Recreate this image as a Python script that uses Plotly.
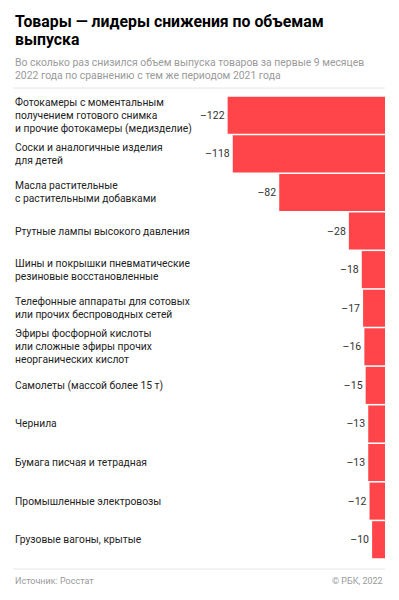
import plotly.graph_objects as go

categories = [
    "Фотокамеры с моментальным<br>получением готового снимка<br>и прочие фотокамеры (медизделие)",
    "Соски и аналогичные изделия<br>для детей",
    "Масла растительные<br>с растительными добавками",
    "Ртутные лампы высокого давления",
    "Шины и покрышки пневматические<br>резиновые восстановленные",
    "Телефонные аппараты для сотовых<br>или прочих беспроводных сетей",
    "Эфиры фосфорной кислоты<br>или сложные эфиры прочих<br>неорганических кислот",
    "Самолеты (массой более 15 т)",
    "Чернила",
    "Бумага писчая и тетрадная",
    "Промышленные электровозы",
    "Грузовые вагоны, крытые",
]
values = [-122, -118, -82, -28, -18, -17, -16, -15, -13, -13, -12, -10]

title_lines = ["Товары — лидеры снижения по объемам", "выпуска"]
subtitle_lines = [
    "Во сколько раз снизился объем выпуска товаров за первые 9 месяцев",
    "2022 года по сравнению с тем же периодом 2021 года",
]
source_text = "Источник: Росстат"
copyright_text = "© РБК, 2022"

# page body has an 8px default margin; compensate so content lands where intended
OFF = 8
W, H = 399 - 2 * OFF, 600 - 2 * OFF
PLOT_LEFT, PLOT_RIGHT, PLOT_TOP, PLOT_BOTTOM = 13, 385, 96, 559
M_L = PLOT_LEFT - OFF
M_R = W - (PLOT_RIGHT - OFF)
M_T = PLOT_TOP - OFF
M_B = H - (PLOT_BOTTOM - OFF)
PLOT_H = PLOT_BOTTOM - PLOT_TOP
PLOT_W = PLOT_RIGHT - PLOT_LEFT
PX_PER_UNIT = 1.29
FONT = "Roboto, Arial, sans-serif"
BAR_COLOR = "#FF4549"


def py(pix):
    return (PLOT_BOTTOM - pix) / PLOT_H


idx = list(range(len(categories)))
texts = ["–" + str(abs(v)) for v in values]

fig = go.Figure(
    go.Bar(
        x=values,
        y=idx,
        orientation="h",
        marker=dict(color=BAR_COLOR, line=dict(width=0)),
        text=texts,
        textposition="outside",
        textfont=dict(family=FONT, size=10.5, color="#333333"),
        cliponaxis=False,
        hoverinfo="skip",
    )
)

annotations = []
LINE = 13
for i, lab in enumerate(categories):
    lines = lab.split("<br>")
    n = len(lines)
    for j, ln in enumerate(lines):
        off = (j - (n - 1) / 2) * LINE
        annotations.append(dict(
            x=0, xref="paper", y=i, yref="y", text=ln, showarrow=False,
            xanchor="left", yanchor="middle", yshift=-off,
            font=dict(family=FONT, size=10.3, color="#222222"),
        ))

for ln, ypix in zip(title_lines, [22, 40]):
    annotations.append(dict(
        x=0, xref="paper", y=py(ypix), yref="paper", text="<b>" + ln + "</b>",
        showarrow=False, xanchor="left", yanchor="middle",
        font=dict(family=FONT, size=15.8, color="#000000"),
    ))
for ln, ypix in zip(subtitle_lines, [62.5, 75]):
    annotations.append(dict(
        x=0, xref="paper", y=py(ypix), yref="paper", text=ln,
        showarrow=False, xanchor="left", yanchor="middle",
        font=dict(family=FONT, size=10.4, color="#9a9a9a"),
    ))
annotations.append(dict(
    x=0, xref="paper", y=py(581), yref="paper", text=source_text,
    showarrow=False, xanchor="left", yanchor="middle",
    font=dict(family=FONT, size=9, color="#9a9a9a"),
))
annotations.append(dict(
    x=1, xref="paper", y=py(581), yref="paper", text=copyright_text,
    showarrow=False, xanchor="right", yanchor="middle",
    font=dict(family=FONT, size=9, color="#9a9a9a"),
))

shapes = [
    dict(type="line", xref="paper", yref="paper", x0=0, x1=1, y0=py(88), y1=py(88),
         line=dict(color="#e6e6e6", width=1)),
    dict(type="line", xref="paper", yref="paper", x0=0, x1=1, y0=py(569), y1=py(569),
         line=dict(color="#e6e6e6", width=1)),
]

fig.update_layout(
    width=W, height=H,
    margin=dict(l=M_L, r=M_R, t=M_T, b=M_B, pad=0),
    paper_bgcolor="white", plot_bgcolor="white",
    showlegend=False,
    bargap=0.04,
    xaxis=dict(range=[-PLOT_W / PX_PER_UNIT, 0], showgrid=False, zeroline=False,
               showticklabels=False, fixedrange=True),
    yaxis=dict(range=[len(categories) - 0.5, -0.5], showgrid=False, zeroline=False,
               showticklabels=False, fixedrange=True),
    annotations=annotations,
    shapes=shapes,
    font=dict(family=FONT),
)

fig.write_html("out.html", config={"displayModeBar": False})
